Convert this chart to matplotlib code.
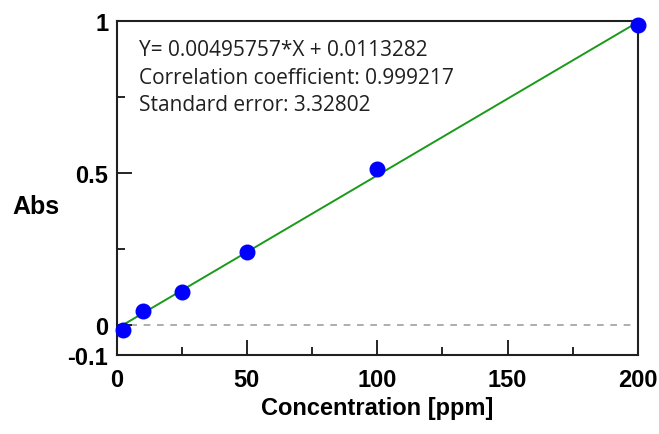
import numpy as np
import matplotlib.pyplot as plt
from matplotlib.ticker import MultipleLocator

# calibration standards
conc = [2.3, 10, 25, 50, 100, 200]
absorb = [-0.017, 0.046, 0.109, 0.238, 0.513, 0.987]

x_ticks = [0, 50, 100, 150, 200]
y_ticks = [-0.1, 0, 0.5, 1]
y_labels = ["-0.1", "0", "0.5", "1"]

info = [
    "Y= 0.00495757*X + 0.0113282",
    "Correlation coefficient: 0.999217",
    "Standard error: 3.32802",
]

bold = {"family": ["Liberation Sans", "DejaVu Sans"], "weight": "bold"}

fig = plt.figure(figsize=(6.59, 4.35), dpi=100)
ax = fig.add_axes([0.1768, 0.1816, 0.7912, 0.7674])

# regression line through the points
k, b = np.polyfit(conc, absorb, 1)
xs = np.array([min(conc), max(conc)])
ax.plot(xs, k * xs + b, color="#1a9a1a", lw=1.4, zorder=2)
ax.axhline(0, color="#a0a0a0", lw=1.2, ls=(0, (4, 4)), zorder=1)
ax.plot(conc, absorb, "o", color="#0000ff", ms=10.5, mec="#0000ff", zorder=3,
        clip_on=False)

ax.set_xlim(0, 200)
ax.set_ylim(-0.1, 1)
ax.set_xticks(x_ticks)
ax.set_xticklabels([str(v) for v in x_ticks], fontdict=bold, fontsize=17)
ax.set_yticks(y_ticks)
ax.set_yticklabels(y_labels, fontdict=bold, fontsize=17)
ax.xaxis.set_minor_locator(MultipleLocator(25))
ax.yaxis.set_minor_locator(MultipleLocator(0.25))
ax.tick_params(which="major", direction="in", length=11, width=1.2, pad=9)
ax.tick_params(which="minor", direction="in", length=6, width=1.2)
ax.tick_params(axis="y", which="major", pad=6)
for s in ax.spines.values():
    s.set_linewidth(1.5)
    s.set_color("#202020")

ax.set_xlabel("Concentration [ppm]", fontdict=bold, fontsize=17, labelpad=4)
ax.set_ylabel("Abs", fontdict=bold, fontsize=18, rotation=0,
              va="center", ha="center")
ax.yaxis.set_label_coords(-0.154, 0.446)

for i, line in enumerate(info):
    ax.text(0.043, 0.914 - i * 0.082, line, transform=ax.transAxes,
            fontsize=15, family=["Open Sans", "DejaVu Sans"], va="center",
            color="#202020")

fig.savefig("out.png", dpi=100)
